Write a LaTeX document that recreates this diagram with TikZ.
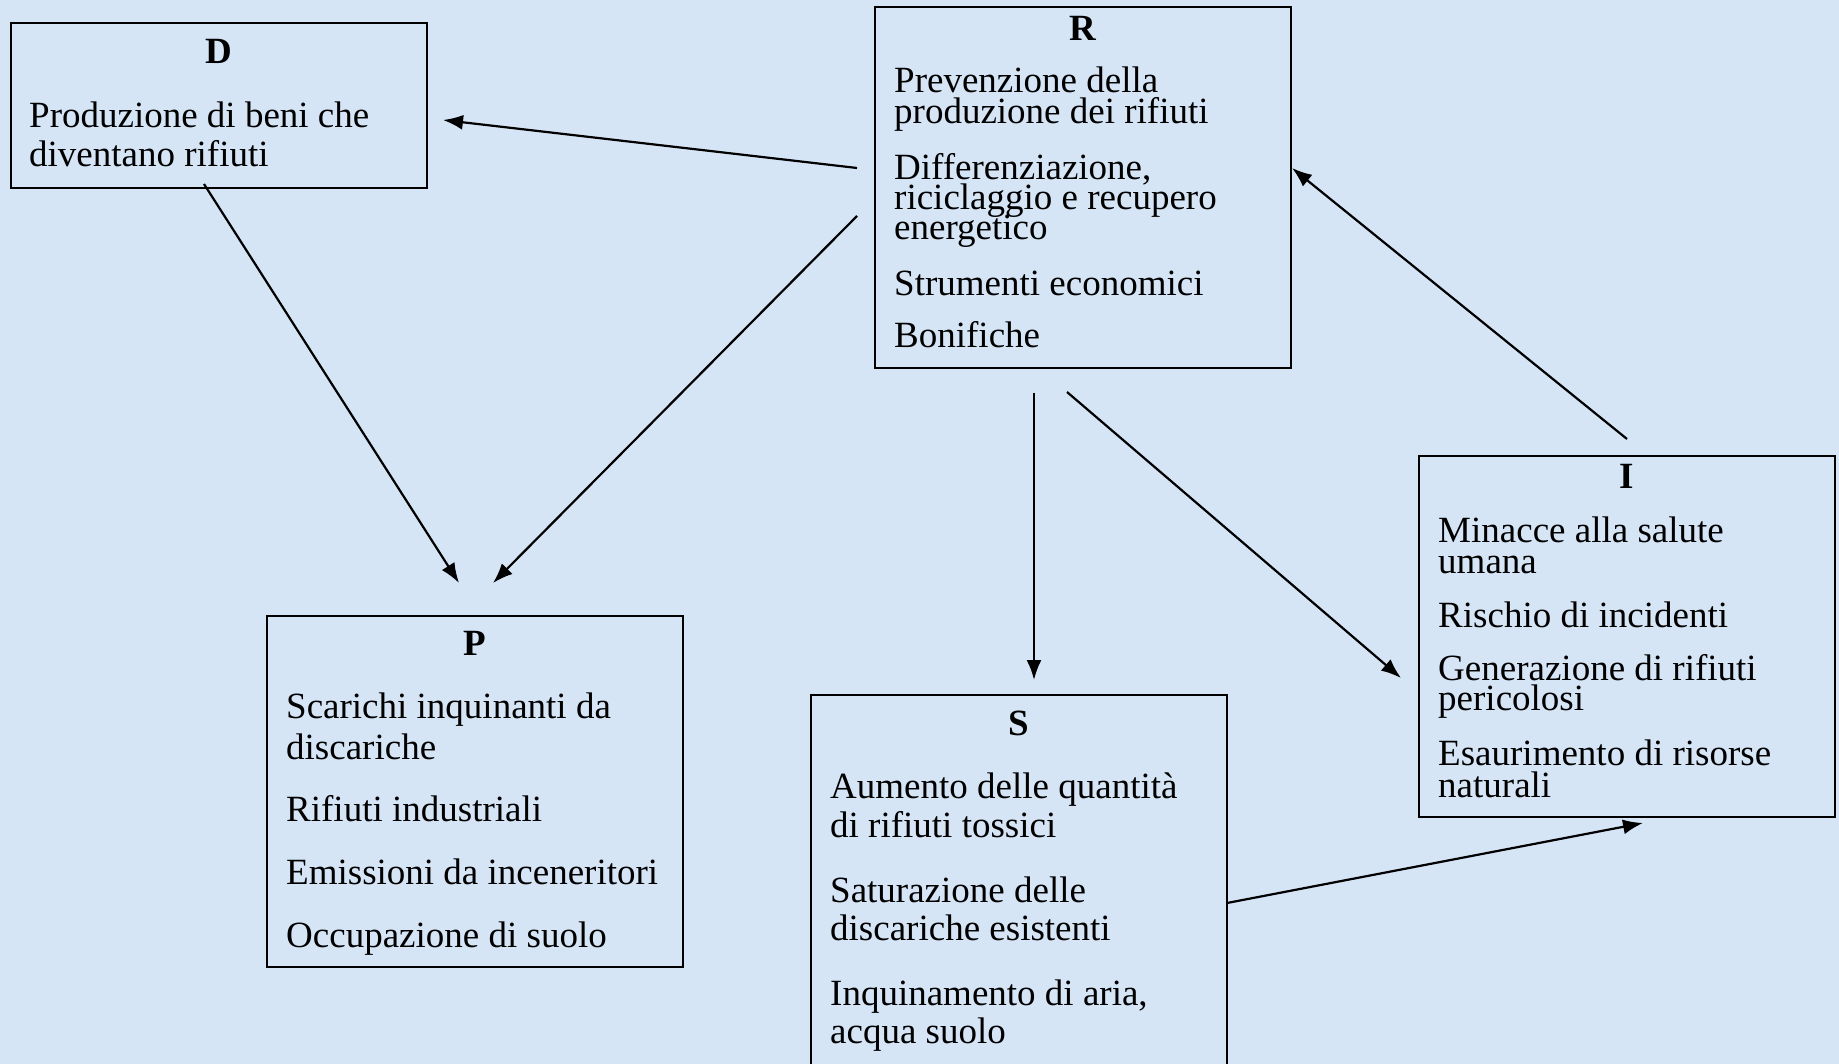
\documentclass[tikz,border=0pt]{standalone}
\usepackage{fontspec}
\setmainfont{Liberation Serif}
\usetikzlibrary{arrows.meta}
\definecolor{paper}{RGB}{213,229,246}
\tikzset{
  box/.style={draw=black, line width=2pt, fill=none, minimum width=416pt, inner sep=0pt},
  ttl/.style={anchor=base, inner sep=0pt, font=\fontsize{37}{37}\selectfont\bfseries},
  txt/.style={anchor=base west, inner sep=0pt, font=\fontsize{37}{37}\selectfont},
  link/.style={line width=2.2pt, -{Latex[length=20pt,width=15pt]}}
}
\begin{document}
\begin{tikzpicture}[x=1pt, y=-1pt]
\clip (0,0) rectangle (1839,1064);
\fill[paper] (0,0) rectangle (1839,1064);

% D box
\node[box, minimum height=165pt] (D) at (219,105.5) {};
\node[ttl] (Dt) at (219,64) {D};
\node[txt] (D1) at (29,128) {Produzione di beni che};
\node[txt] (D2) at (29,167) {diventano rifiuti};

% R box
\node[box, minimum height=361pt] (R) at (1083,187.5) {};
\node[ttl] (Rt) at (1083,41) {R};
\node[txt] (R1) at (894,93) {Prevenzione della};
\node[txt] (R2) at (894,124) {produzione dei rifiuti};
\node[txt] (R3) at (894,180) {Differenziazione,};
\node[txt] (R4) at (894,210) {riciclaggio e recupero};
\node[txt] (R5) at (894,240) {energetico};
\node[txt] (R6) at (894,296) {Strumenti economici};
\node[txt] (R7) at (894,348) {Bonifiche};

% P box
\node[box, minimum height=351pt] (P) at (475,791.5) {};
\node[ttl] (Pt) at (475,655) {P};
\node[txt] (P1) at (286,718) {Scarichi inquinanti da};
\node[txt] (P2) at (286,759) {discariche};
\node[txt] (P3) at (286,821) {Rifiuti industriali};
\node[txt] (P4) at (286,884) {Emissioni da inceneritori};
\node[txt] (P5) at (286,947) {Occupazione di suolo};

% S box (runs past the lower edge)
\node[box, minimum height=395pt] (S) at (1019,892.5) {};
\node[ttl] (St) at (1019,735) {S};
\node[txt] (S1) at (830,798) {Aumento delle quantità};
\node[txt] (S2) at (830,837) {di rifiuti tossici};
\node[txt] (S3) at (830,902) {Saturazione delle};
\node[txt] (S4) at (830,940) {discariche esistenti};
\node[txt] (S5) at (830,1005) {Inquinamento di aria,};
\node[txt] (S6) at (830,1043) {acqua suolo};

% I box
\node[box, minimum height=361pt] (I) at (1627,636.5) {};
\node[ttl] (It) at (1627,488) {I};
\node[txt] (I1) at (1438,542) {Minacce alla salute};
\node[txt] (I2) at (1438,573) {umana};
\node[txt] (I3) at (1438,627) {Rischio di incidenti};
\node[txt] (I4) at (1438,680) {Generazione di rifiuti};
\node[txt] (I5) at (1438,710) {pericolosi};
\node[txt] (I6) at (1438,765) {Esaurimento di risorse};
\node[txt] (I7) at (1438,797) {naturali};

% connector end points
\coordinate (rdA) at (857,168);  \coordinate (rdB) at (443,120);
\coordinate (dpA) at (204,184);  \coordinate (dpB) at (459,583);
\coordinate (rpA) at (857,216);  \coordinate (rpB) at (493,583);
\coordinate (rsA) at (1034,393); \coordinate (rsB) at (1034,680);
\coordinate (riA) at (1067,392); \coordinate (riB) at (1401,678);
\coordinate (irA) at (1627,439); \coordinate (irB) at (1292,168);
\coordinate (siA) at (1227,903); \coordinate (siB) at (1643,823);

\draw[link] (rdA) -- (rdB);
\draw[link] (dpA) -- (dpB);
\draw[link] (rpA) -- (rpB);
\draw[link] (rsA) -- (rsB);
\draw[link] (riA) -- (riB);
\draw[link] (irA) -- (irB);
\draw[link] (siA) -- (siB);
\end{tikzpicture}
\end{document}
